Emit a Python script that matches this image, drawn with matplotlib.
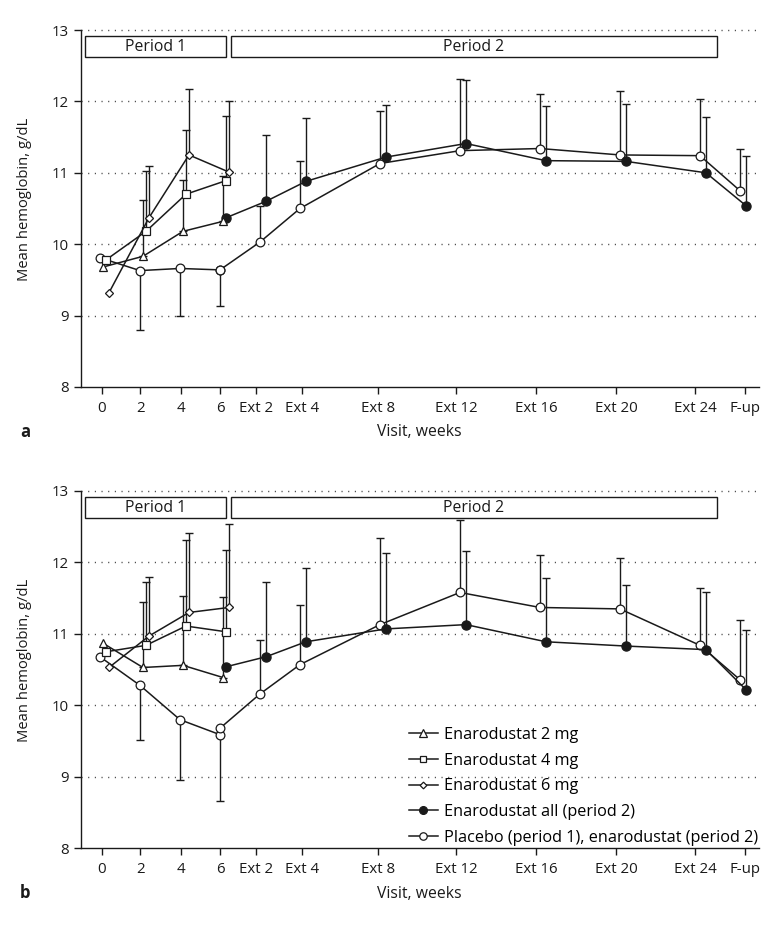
import matplotlib
matplotlib.use('Agg')
import matplotlib.pyplot as plt
from matplotlib.patches import Rectangle
from matplotlib.lines import Line2D
import numpy as np

plt.rcParams['font.family'] = ['Open Sans', 'DejaVu Sans']
plt.rcParams['font.size'] = 10

# ---------------- data ----------------
visit_labels = ["0", "2", "4", "6", "Ext 2", "Ext 4", "Ext 8", "Ext 12",
                "Ext 16", "Ext 20", "Ext 24", "F-up"]
visit_weeks = [0, 2, 4, 6, 8, 10, 14, 18, 22, 26, 30, 32]
p1_weeks = [0, 2, 4, 6]
p2_weeks = [6, 8, 10, 14, 18, 22, 26, 30, 32]

series_names = ["Enarodustat 2 mg", "Enarodustat 4 mg", "Enarodustat 6 mg",
                "Enarodustat all (period 2)",
                "Placebo (period 1), enarodustat (period 2)"]

# Panel a  (means, and the end of the one-sided SD bar)
a_2mg = [9.68, 9.83, 10.18, 10.32]
a_2mg_bar = [np.nan, 10.62, 10.90, 10.95]
a_4mg = [9.78, 10.18, 10.70, 10.89]
a_4mg_bar = [np.nan, 11.03, 11.60, 11.79]
a_6mg = [9.32, 10.37, 11.25, 11.01]
a_6mg_bar = [np.nan, 11.09, 12.18, 12.01]
a_all = [10.37, 10.60, 10.88, 11.22, 11.41, 11.17, 11.16, 11.00, 10.54]
a_all_bar = [np.nan, 11.53, 11.77, 11.95, 12.30, 11.93, 11.96, 11.78, 11.24]
a_pbo_p1 = [9.81, 9.63, 9.66, 9.64]
a_pbo_p1_bar = [np.nan, 8.80, 9.00, 9.13]
a_pbo_p2 = [9.64, 10.03, 10.50, 11.13, 11.31, 11.34, 11.25, 11.24, 10.75]
a_pbo_p2_bar = [np.nan, 10.54, 11.17, 11.86, 12.31, 12.11, 12.14, 12.03, 11.34]

# Panel b
b_2mg = [10.87, 10.53, 10.56, 10.39]
b_2mg_bar = [np.nan, 11.45, 11.53, 11.51]
b_4mg = [10.75, 10.84, 11.11, 11.03]
b_4mg_bar = [np.nan, 11.73, 12.31, 12.17]
b_6mg = [10.53, 10.97, 11.30, 11.37]
b_6mg_bar = [np.nan, 11.80, 12.41, 12.54]
b_all = [10.54, 10.68, 10.89, 11.07, 11.13, 10.89, 10.83, 10.78, 10.22]
b_all_bar = [np.nan, 11.73, 11.92, 12.13, 12.16, 11.78, 11.68, 11.58, 11.06]
b_pbo_p1 = [10.68, 10.28, 9.80, 9.59]
b_pbo_p1_bar = [np.nan, 9.51, 8.96, 8.66]
b_pbo_p2 = [9.68, 10.16, 10.57, 11.13, 11.58, 11.37, 11.35, 10.84, 10.36]
b_pbo_p2_bar = [np.nan, 10.91, 11.40, 12.34, 12.59, 12.11, 12.06, 11.64, 11.19]

# ---------------- styling ----------------
INK = '#1a1a1a'
# tick marks sit slightly off the visit weeks in the original artwork
tick_shift = [0.08, 0.02, 0.05, 0.01, -0.2, 0.1, -0.1, -0.2, -0.2, -0.2, -0.23, 0.25]
dodge = {"2mg": 0.15, "4mg": 0.30, "6mg": 0.45, "all": 0.30, "pbo": 0.0}
mstyle = {
    "2mg": dict(marker='^', ms=6.0, mfc='white'),
    "4mg": dict(marker='s', ms=5.6, mfc='white'),
    "6mg": dict(marker='D', ms=4.0, mfc='white'),
    "all": dict(marker='o', ms=6.6, mfc=INK),
    "pbo": dict(marker='o', ms=6.3, mfc='white'),
}
LW = 1.1
TICK_FS = 10.8
TEXT_FS = 11.3
LEG_FS = 11.7


def draw_series(ax, weeks, vals, bars, key, z):
    x = np.array(weeks, float) + dodge[key]
    v = np.array(vals, float)
    b = np.array(bars, float)
    ok = ~np.isnan(b)
    up = np.where(b[ok] > v[ok], b[ok] - v[ok], 0)
    lo = np.where(b[ok] < v[ok], v[ok] - b[ok], 0)
    ax.errorbar(x[ok], v[ok], yerr=[lo, up], fmt='none', ecolor=INK,
                elinewidth=1.0, capsize=3, capthick=1.0, zorder=z)
    ax.plot(x, v, color=INK, lw=LW, mec=INK, mew=0.9,
            zorder=z + 1, **mstyle[key])


def draw_panel(ax, d, legend=False):
    ax.set_xlim(-0.965, 32.95)
    ax.set_ylim(8, 13)
    ax.set_yticks([8, 9, 10, 11, 12, 13])
    ax.set_xticks(np.array(visit_weeks, float) + np.array(tick_shift))
    ax.set_xticklabels(visit_labels)
    ax.tick_params(direction='out', length=5, width=1, labelsize=TICK_FS,
                   colors=INK)
    ax.tick_params(axis='x', pad=5)
    for s in ['top', 'right']:
        ax.spines[s].set_visible(False)
    for s in ['left', 'bottom']:
        ax.spines[s].set_linewidth(1.0)
        ax.spines[s].set_color(INK)
    for yv in [9, 10, 11, 12, 13]:
        ax.axhline(yv, color='#444444', lw=1.0, ls=(0, (0.8, 4)), zorder=0,
                   clip_on=False)

    # period boxes
    ax.add_patch(Rectangle((-0.75, 12.615), 7.05, 0.305, fc='white',
                           ec=INK, lw=1.0, zorder=5))
    ax.add_patch(Rectangle((6.53, 12.615), 24.3, 0.305, fc='white',
                           ec=INK, lw=1.0, zorder=5))
    ax.text(-0.75 + 7.05 / 2, 12.76, "Period 1", ha='center', va='center',
            fontsize=TEXT_FS, zorder=6, color=INK)
    ax.text(6.53 + 24.3 / 2, 12.76, "Period 2", ha='center', va='center',
            fontsize=TEXT_FS, zorder=6, color=INK)

    draw_series(ax, p1_weeks, d["pbo1"], d["pbo1_bar"], "pbo", 2)
    draw_series(ax, p2_weeks, d["pbo2"], d["pbo2_bar"], "pbo", 2)
    draw_series(ax, p2_weeks, d["all"], d["all_bar"], "all", 2)
    draw_series(ax, p1_weeks, d["2mg"], d["2mg_bar"], "2mg", 3)
    draw_series(ax, p1_weeks, d["4mg"], d["4mg_bar"], "4mg", 3)
    draw_series(ax, p1_weeks, d["6mg"], d["6mg_bar"], "6mg", 3)

    ax.set_ylabel("Mean hemoglobin, g/dL", fontsize=10.6, color=INK)
    ax.yaxis.set_label_coords(-0.072, 0.525)
    ax.set_xlabel("Visit, weeks", fontsize=TEXT_FS, labelpad=6, color=INK)

    if legend:
        handles = []
        for key in ["2mg", "4mg", "6mg", "all", "pbo"]:
            st = dict(mstyle[key])
            st['ms'] = st['ms'] * 0.85
            handles.append(Line2D([0], [0], color=INK, lw=LW,
                                  mec=INK, mew=0.9, **st))
        ax.legend(handles, series_names, loc='lower right',
                  bbox_to_anchor=(1.003, 0.0), frameon=False,
                  fontsize=LEG_FS, handlelength=1.8, handletextpad=0.4,
                  labelspacing=0.6, borderaxespad=0, borderpad=0.15)


fig = plt.figure(figsize=(7.78, 9.32), dpi=100)
axa = fig.add_axes([0.1037, 0.5848, 0.8718, 0.383])
axb = fig.add_axes([0.1037, 0.0898, 0.8718, 0.3834])

data_a = {"2mg": a_2mg, "2mg_bar": a_2mg_bar, "4mg": a_4mg, "4mg_bar": a_4mg_bar,
          "6mg": a_6mg, "6mg_bar": a_6mg_bar, "all": a_all, "all_bar": a_all_bar,
          "pbo1": a_pbo_p1, "pbo1_bar": a_pbo_p1_bar,
          "pbo2": a_pbo_p2, "pbo2_bar": a_pbo_p2_bar}
data_b = {"2mg": b_2mg, "2mg_bar": b_2mg_bar, "4mg": b_4mg, "4mg_bar": b_4mg_bar,
          "6mg": b_6mg, "6mg_bar": b_6mg_bar, "all": b_all, "all_bar": b_all_bar,
          "pbo1": b_pbo_p1, "pbo1_bar": b_pbo_p1_bar,
          "pbo2": b_pbo_p2, "pbo2_bar": b_pbo_p2_bar}

draw_panel(axa, data_a)
draw_panel(axb, data_b, legend=True)

fig.text(20 / 778, 1 - 432 / 932, "a", fontsize=12, fontweight='bold',
         ha='left', va='center', color=INK)
fig.text(20 / 778, 1 - 893 / 932, "b", fontsize=12, fontweight='bold',
         ha='left', va='center', color=INK)

fig.savefig("out.png", dpi=100)
